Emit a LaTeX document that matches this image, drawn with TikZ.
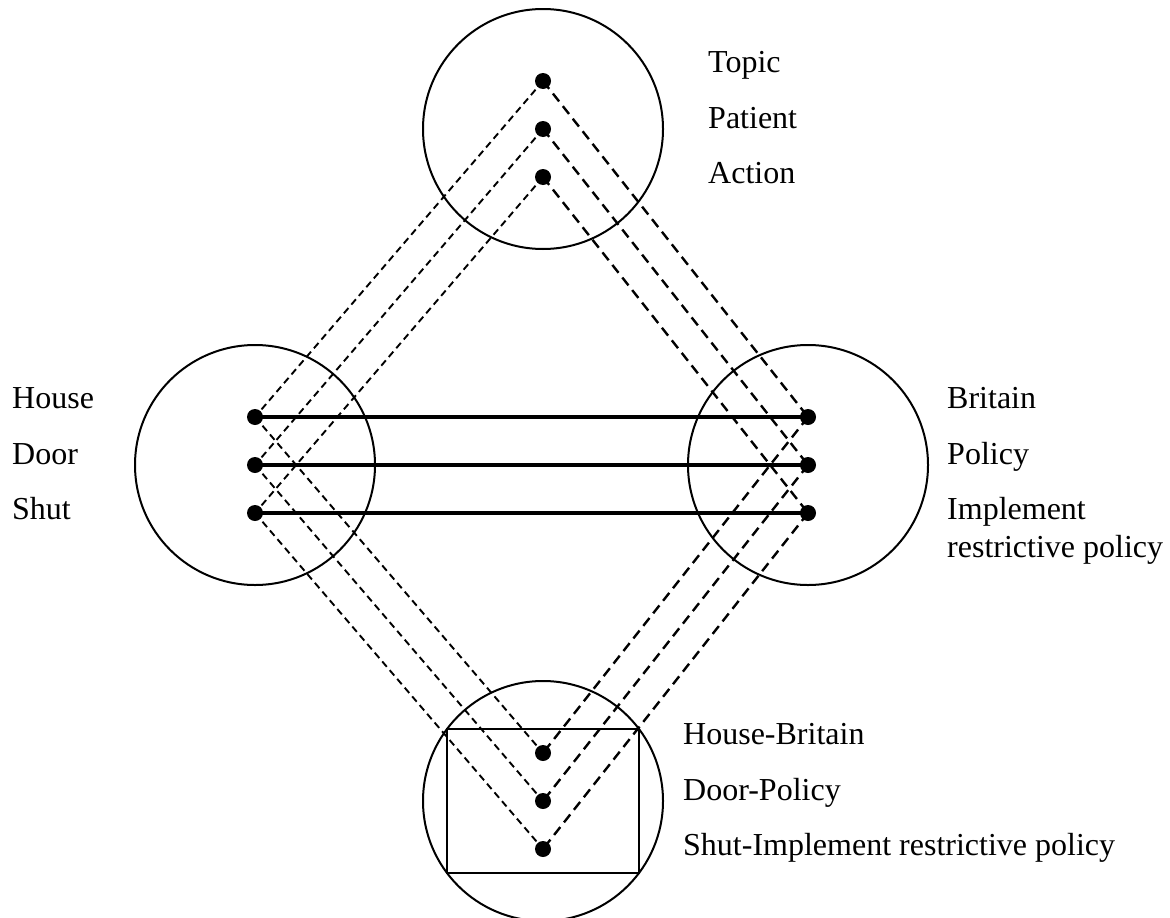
\documentclass[tikz,border=0pt]{standalone}
\usepackage{fontspec}
\setmainfont{Liberation Serif}
\begin{document}
\begin{tikzpicture}[x=1pt,y=-1pt,
  ring/.style={circle,draw,line width=2pt,minimum size=240pt,inner sep=0pt},
  dot/.style={circle,fill=black,minimum size=16pt,inner sep=0pt},
  finedash/.style={line width=1.9pt,dash pattern=on 7pt off 4.5pt},
  longdash/.style={line width=2.4pt,dash pattern=on 10pt off 6pt},
  solidlink/.style={line width=3.2pt},
  lbl/.style={anchor=base west,inner sep=0pt,font=\fontsize{32}{38}\selectfont,align=left}]
\useasboundingbox (0,0) rectangle (1170,918);
% circles
\node[ring] (ct) at (543,129) {};
\node[ring] (cl) at (255,465) {};
\node[ring] (cr) at (808,465) {};
\node[ring] (cb) at (543,801) {};
\node[draw,line width=2pt,minimum width=192pt,minimum height=144pt,inner sep=0pt] (box) at (543,801) {};
% dot coordinates
\foreach \i/\dy in {1/-48,2/0,3/48}{
  \coordinate (t\i) at (543,129+\dy);
  \coordinate (l\i) at (255,465+\dy);
  \coordinate (r\i) at (808,465+\dy);
  \coordinate (b\i) at (543,801+\dy);
}
% connectors
\foreach \i in {1,2,3}{
  \draw[finedash] (t\i) -- (l\i);
  \draw[finedash] (l\i) -- (b\i);
  \draw[longdash] (t\i) -- (r\i);
  \draw[longdash] (r\i) -- (b\i);
  \draw[solidlink] (l\i) -- (r\i);
}
% dots
\foreach \i in {1,2,3}{
  \node[dot] (dt\i) at (t\i) {};
  \node[dot] (dl\i) at (l\i) {};
  \node[dot] (dr\i) at (r\i) {};
  \node[dot] (db\i) at (b\i) {};
}
% labels
\node[lbl] (topic) at (708,72) {Topic};
\node[lbl] (patient) at (708,128) {Patient};
\node[lbl] (action) at (708,183) {Action};
\node[lbl] (house) at (12,408) {House};
\node[lbl] (door) at (12,464) {Door};
\node[lbl] (shut) at (12,519) {Shut};
\node[lbl] (britain) at (947,408) {Britain};
\node[lbl] (policy) at (947,464) {Policy};
\node[lbl] (implement) at (947,519) {Implement};
\node[lbl] (restrictive) at (947,557) {restrictive policy};
\node[lbl] (hb) at (683,744) {House-Britain};
\node[lbl] (dp) at (683,800) {Door-Policy};
\node[lbl] (si) at (683,855) {Shut-Implement restrictive policy};
\end{tikzpicture}
\end{document}
